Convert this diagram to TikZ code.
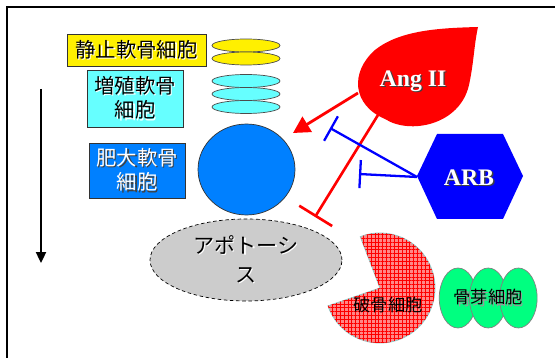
\documentclass[tikz,border=0pt]{standalone}
\usepackage{fontspec}
\setmainfont{Liberation Serif}
\newfontfamily\jpfont{Noto Sans CJK JP}
\usepackage{tikz}
\usetikzlibrary{positioning,arrows.meta,shapes.geometric,patterns.meta}

\definecolor{restY}{RGB}{255,240,0}
\definecolor{prolC}{RGB}{102,255,255}
\definecolor{hypB}{RGB}{0,128,255}
\definecolor{angR}{RGB}{255,0,0}
\definecolor{arbB}{RGB}{0,0,255}
\definecolor{boneG}{RGB}{0,255,128}
\definecolor{ocFill}{RGB}{255,135,135}
\definecolor{ocEdge}{RGB}{150,200,200}

% text with a drop shadow: #1 text colour, #2 shadow colour, #3 text
\newcommand{\shd}[3]{\makebox[0pt][l]{\hspace{0.8pt}\raisebox{-0.8pt}{\textcolor{#2}{#3}}}\textcolor{#1}{#3}}

\tikzset{
	stage/.style={draw=black!80, inner sep=0pt, outer sep=0pt, align=center, font=\jpfont\fontsize{11.6}{14}\selectfont},
	disc/.style={ellipse, draw=black!70, line width=0.4pt, inner sep=0pt, outer sep=0pt, minimum width=1.36cm, minimum height=0.26cm},
	agent/.style={font=\bfseries\fontsize{13.5}{16}\selectfont},
	small/.style={font=\jpfont\fontsize{9.8}{12}\selectfont},
	act/.style={draw=angR, line width=1.6pt, -{Triangle[length=9.5pt,width=10pt]}},
	inh/.style={line width=1.4pt, -{Bar[width=#1]}},
	bcell/.style={ellipse, draw=gray, fill=boneG, inner sep=0pt, minimum width=0.75cm, minimum height=1.2cm},
}

\begin{document}
\begin{tikzpicture}[x=0.02cm, y=-0.02cm]
	\useasboundingbox (0,0) rectangle (555,358);
	\draw[line width=1.1pt] (7,358) -- (7,7) -- (555,7);

	%% chondrocytes
	\node[stage, fill=restY, minimum width=2.78cm, minimum height=0.64cm] (rest) at (136.5,50) {\shd{black}{white}{静止軟骨細胞}};
	\node[stage, fill=prolC, minimum width=1.92cm, minimum height=1.14cm] (prolif) at (135,98.5) {\shd{black}{white}{増殖軟骨}\\\shd{black}{white}{細胞}};
	\node[stage, fill=hypB, minimum width=1.92cm, minimum height=1.1cm] (hyper) at (137,170.5) {\shd{white}{black!75}{肥大軟骨}\\\shd{white}{black!75}{細胞}};

	\node[disc, fill=restY] (r1) at (246,45.5) {};
	\node[disc, fill=restY, below=0pt of r1] (r2) {};
	\node[disc, fill=prolC] (p1) at (246,81) {};
	\node[disc, fill=prolC, below=0pt of p1] (p2) {};
	\node[disc, fill=prolC, below=0pt of p2] (p3) {};
	\node[ellipse, draw=black!80, fill=hypB, inner sep=0pt, minimum width=1.94cm, minimum height=1.82cm] (hcell) at (246.5,169.5) {};

	% time axis
	\coordinate (t0) at (41,89);
	\coordinate (t1) at (41,263);
	\draw[line width=1.1pt, -{Triangle[length=6.2pt,width=5.7pt]}] (t0) -- (t1);

	%% apoptosis
	\node[ellipse, draw, dashed, dash pattern=on 2pt off 1.5pt, fill=gray!40, inner sep=0pt, minimum width=3.84cm, minimum height=1.64cm,
		align=center, font=\jpfont\fontsize{12}{16.4}\selectfont] (apo) at (246,260) {\shd{black}{white}{アポトーシ}\\\shd{black}{white}{ス}};

	%% osteoclast (y up inside)
	\begin{scope}[shift={(380,288)}, y=0.02cm]
		\filldraw[draw=ocEdge, fill=ocFill, line width=0.5pt,
			postaction={pattern={Lines[angle=0,distance=2.2pt,line width=0.35pt]}, pattern color=red},
			postaction={pattern={Lines[angle=90,distance=2.2pt,line width=0.35pt]}, pattern color=red}]
			(0,0) -- (111:55) arc[start angle=111, end angle=-161, radius=55] -- cycle;
	\end{scope}
	\node[small] (oc) at (388,305) {破骨細胞};

	%% osteoblasts
	\node[bcell] (ob1) at (458,298) {};
	\node[bcell, right=-0.16cm of ob1] (ob2) {};
	\node[bcell, right=-0.16cm of ob2] (ob3) {};
	\node[small] (ob) at (ob2) {\shd{black}{black!40}{骨芽細胞}};

	%% Ang II
	\fill[angR] (478,27) .. controls (440,28) and (400,30) .. (375,50)
		.. controls (350,72) and (352,105) .. (385,119)
		.. controls (410,135) and (460,125) .. (469,85)
		.. controls (474,62) and (474,45) .. (478,27) -- cycle;
	\node[agent] (ang) at (413,82) {\shd{white}{black!75}{Ang II}};
	\coordinate (angA) at (358,93);
	\coordinate (angB) at (378,115);

	%% ARB
	\fill[arbB] (417,176) -- (437,134) -- (503,134) -- (523,176) -- (503,219) -- (437,219) -- cycle;
	\node[agent] (arb) at (469,178) {\shd{white}{black!75}{ARB}};
	\coordinate (arbL) at (417,177);

	% activation and blocks
	\coordinate (tgtA) at (293,133);
	\coordinate (blkR) at (315,217);
	\coordinate (blkB1) at (330,128);
	\coordinate (blkB2) at (359,174);
	\draw[act] (angA) -- (tgtA);
	\draw[inh=22pt, draw=angR, line width=1.5pt] (angB) -- (blkR);
	\draw[inh=16pt, draw=arbB, line width=1.3pt] (arbL) -- (blkB1);
	\draw[inh=16pt, draw=arbB, line width=1.3pt] (arbL) -- (blkB2);
\end{tikzpicture}
\end{document}
